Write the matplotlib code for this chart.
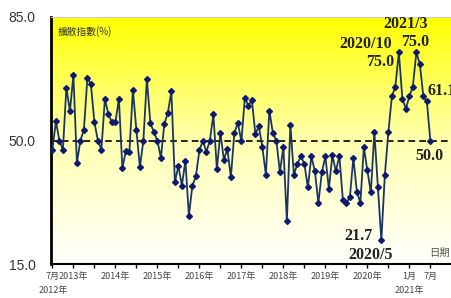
import numpy as np
import matplotlib.pyplot as plt
from matplotlib.colors import LinearSegmentedColormap

# --- data : diffusion index, monthly from 2012/7 to 2021/7 ---------------
values = [47.4, 55.4, 50.0, 47.4, 65.0, 58.3, 68.5, 43.6, 50.0, 53.0,
          67.8, 65.9, 55.2, 50.0, 47.4, 61.8, 57.4, 55.2, 55.2, 61.8,
          42.2, 47.0, 46.7, 64.4, 53.0, 42.4, 50.0, 67.5, 54.9,
          52.4, 50.0, 45.1, 54.7, 57.9, 63.9, 38.2, 42.8, 37.2, 44.3,
          28.7, 37.2, 39.8, 47.2, 50.0, 46.8, 50.0, 57.4, 41.9, 52.2,
          44.6, 47.6, 39.6, 52.2, 54.9, 49.8, 62.1, 59.9, 61.4, 51.9, 54.0,
          48.1, 40.3, 58.5, 52.1, 50.0, 41.1, 48.1, 27.1, 54.5, 40.3,
          43.4, 45.5, 43.4, 36.7, 45.5, 41.3, 32.3, 41.0, 45.5, 36.3,
          45.8, 41.3, 45.6, 33.2, 32.3, 33.9, 45.1, 35.5, 32.3, 48.1,
          41.5, 35.3, 52.4, 36.9, 21.7, 40.3, 52.3, 62.5, 65.3, 75.0,
          61.9, 59.0, 62.5, 65.3, 75.0, 71.6, 62.5, 61.1, 50.0]
months = np.arange(len(values))  # 0 = 2012/7

tick_pos = [0, 6, 18, 30, 42, 54, 66, 78, 90, 102, 108]
tick_labels = ["7月", "2013年", "2014年", "2015年", "2016年", "2017年",
               "2018年", "2019年", "2020年", "1月", "7月"]
y_ticks = [15, 50, 85]

# annotations (text, month, y)
notes = [("2021/3", 100.8, 83.0), ("2020/10", 89.6, 77.3),
         ("75.0", 93.8, 72.2), ("75.0", 103.6, 77.8),
         ("50.0", 107.6, 45.7), ("21.7", 87.6, 23.0), ("2020/5", 90.8, 17.6)]

cjk = ["Noto Sans CJK TC", "DejaVu Sans"]

fig = plt.figure(figsize=(4.51, 2.98), dpi=100)
ax = fig.add_axes([51/451, 34/298, 400/451, 247/298])

xmin, xmax = -0.4, 113.9
ymin, ymax = 15, 85

# yellow -> white background gradient
cmap = LinearSegmentedColormap.from_list("yw", ["#FFFFFF", "#FFFFB0", "#FFFF00"])
grad = np.linspace(0, 1, 256).reshape(-1, 1)
ax.imshow(grad, extent=[xmin, xmax, ymin, ymax], origin="lower",
          aspect="auto", cmap=cmap, zorder=0)

ax.axhline(50, color="black", ls=(0, (4, 2.5)), lw=1.2, zorder=1)
ax.plot(months, values, color="#1B3563", lw=1.3, marker="D", ms=3.0,
        mfc="#0D1A70", mec="#0D1A70", zorder=3)

ax.set_xlim(xmin, xmax)
ax.set_ylim(ymin, ymax)

ax.set_yticks(y_ticks)
ax.set_yticklabels([f"{v:.1f}" for v in y_ticks], fontsize=10,
                   family="Liberation Sans", color="#333333")
ax.tick_params(axis="y", length=0, pad=11)

ax.set_xticks(np.arange(0, 109, 6), minor=True)
ax.set_xticks(tick_pos)
ax.set_xticklabels(tick_labels, fontsize=6.5, family=cjk, color="#444444")
ax.tick_params(axis="x", which="both", length=3, width=1, color="black",
               direction="out", pad=3)

ax.spines["right"].set_visible(False)
ax.spines["top"].set_color("#CCCCCC")
ax.spines["top"].set_linewidth(0.8)
ax.spines["left"].set_linewidth(2)
ax.spines["bottom"].set_linewidth(1.5)

for txt, x, y in notes:
    ax.text(x, y, txt, ha="center", va="center", fontsize=11.5,
            family="Liberation Serif", weight="bold", color="#222222")
ax.text(107.1, 63.9, "61.1", ha="left", va="center", fontsize=11.5,
        family="Liberation Serif", weight="bold", color="#222222")

ax.text(1.6, 81.0, "擴散指數(%)", ha="left", va="center", fontsize=7,
        family=cjk, color="#333333")
ax.text(110.5, 18.2, "日期", ha="center", va="center", fontsize=7.5,
        family=cjk, color="#555555")
ax.text(0.3, 7.6, "2012年", ha="center", va="center", fontsize=6.5,
        family=cjk, color="#444444", clip_on=False)
ax.text(102, 7.6, "2021年", ha="center", va="center", fontsize=6.5,
        family=cjk, color="#444444", clip_on=False)

fig.savefig("out.png", dpi=100)
